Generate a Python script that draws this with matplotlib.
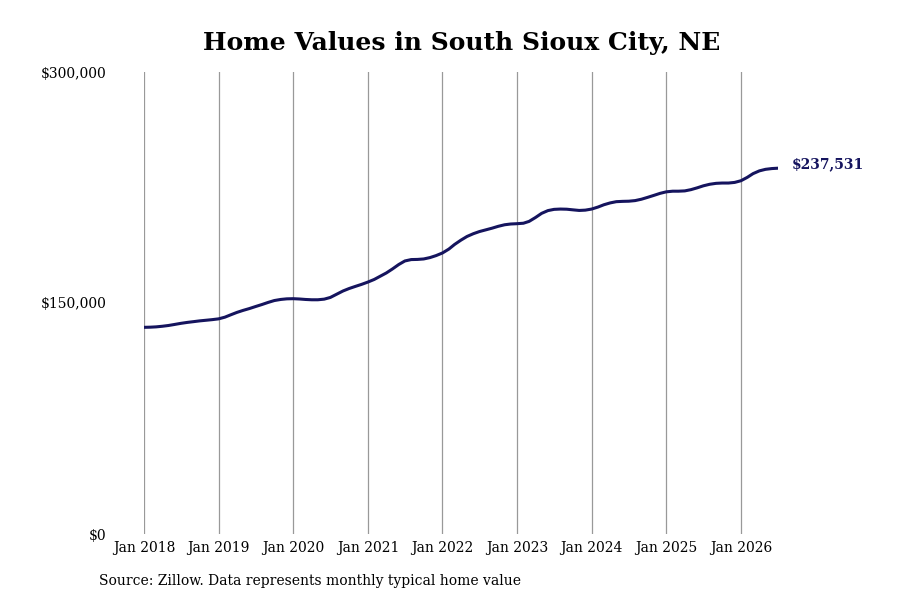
import pandas as pd
import matplotlib.pyplot as plt
from matplotlib.ticker import FuncFormatter

plt.rcParams['font.family'] = ['DejaVu Serif']

# typical home value by month, Jan 2018 - Jul 2026 (thousands of $)
values_2018 = [134.2, 134.3, 134.5, 134.9, 135.4, 136.1, 136.8, 137.4, 137.9, 138.4, 138.8, 139.2]
values_2019 = [139.7, 140.8, 142.3, 143.9, 145.2, 146.4, 147.7, 149.0, 150.4, 151.6, 152.3, 152.7]
values_2020 = [152.8, 152.6, 152.3, 152.1, 152.1, 152.5, 153.6, 155.7, 157.8, 159.4, 160.8, 162.1]
values_2021 = [163.6, 165.3, 167.3, 169.5, 172.1, 175.0, 177.3, 178.2, 178.3, 178.6, 179.5, 180.8]
values_2022 = [182.5, 185.0, 188.0, 190.8, 193.2, 195.0, 196.4, 197.5, 198.6, 199.8, 200.8, 201.3]
values_2023 = [201.5, 201.8, 203.0, 205.5, 208.2, 210.0, 210.8, 211.0, 210.9, 210.5, 210.1, 210.3]
values_2024 = [211.0, 212.3, 213.8, 215.0, 215.8, 216.0, 216.1, 216.5, 217.4, 218.6, 219.9, 221.2]
values_2025 = [222.2, 222.6, 222.6, 222.8, 223.6, 224.8, 226.1, 227.1, 227.7, 227.9, 227.9, 228.3]
values_2026 = [229.4, 231.6, 234.0, 235.8, 236.8, 237.3, 237.531]

values = (values_2018 + values_2019 + values_2020 + values_2021 + values_2022
          + values_2023 + values_2024 + values_2025 + values_2026)
values = [v * 1000 for v in values]
dates = pd.date_range("2018-01-01", periods=len(values), freq="MS")

tick_dates = pd.date_range("2018-01-01", "2026-01-01", freq="YS")
tick_labels = ["Jan %d" % d.year for d in tick_dates]
y_ticks = [0, 150000, 300000]

line_color = "#15145e"

fig = plt.figure(figsize=(9, 6), dpi=100)
ax = fig.add_axes([0.16, 0.11, 0.7044, 0.77])

ax.plot(dates, values, color=line_color, linewidth=2.2, solid_capstyle="round")

ax.set_ylim(0, 300000)
ax.set_xlim(dates[0], dates[-1])
ax.set_yticks(y_ticks)
ax.yaxis.set_major_formatter(FuncFormatter(lambda v, p: "${:,.0f}".format(v)))
ax.set_xticks(tick_dates)
ax.set_xticklabels(tick_labels)

ax.grid(axis="x", color="#999999", linewidth=0.9)
ax.grid(axis="y", visible=False)
for s in ax.spines.values():
    s.set_visible(False)
ax.tick_params(axis="y", length=0, pad=27, labelsize=10)
ax.tick_params(axis="x", length=0, pad=5, labelsize=10)

# last value label
ax.annotate("${:,.0f}".format(values[-1]), xy=(dates[-1], values[-1]),
            xytext=(10, 3), textcoords="offset points", ha="left", va="center",
            fontsize=10, fontweight="bold", color=line_color, annotation_clip=False)

fig.text(0.513, 0.928, "Home Values in South Sioux City, NE", ha="center", va="center",
         fontsize=18, fontweight="bold")
fig.text(0.11, 0.031, "Source: Zillow. Data represents monthly typical home value",
         ha="left", va="center", fontsize=10)

fig.savefig("out.png", dpi=100)
